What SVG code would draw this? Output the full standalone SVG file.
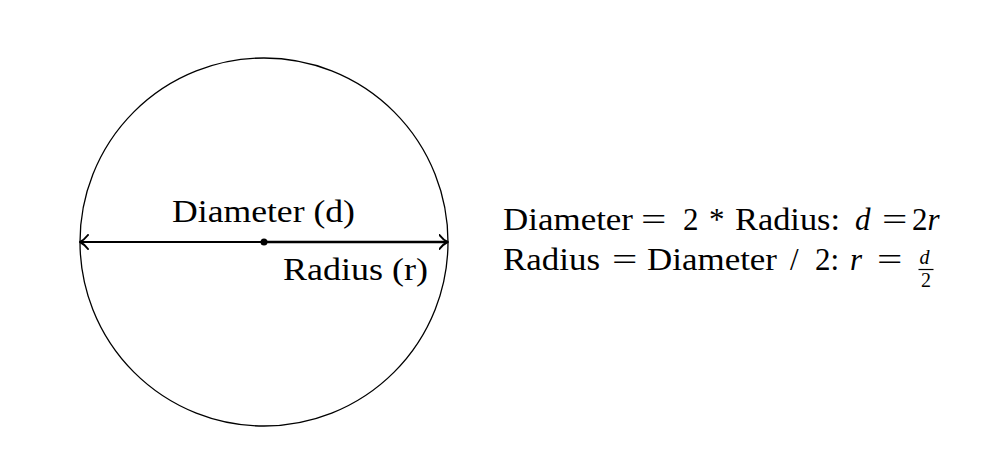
<svg xmlns="http://www.w3.org/2000/svg" width="1003" height="476" viewBox="0 0 1003 476">
<style>
.t{font-family:"Liberation Serif","Times New Roman",serif;font-size:31px;fill:#000}
.i{font-style:italic}
.s{font-family:"Liberation Serif","Times New Roman",serif;font-size:20px;fill:#000}
</style>
<defs>
<marker id="ah" viewBox="0 0 10 16" refX="9" refY="8" markerWidth="10" markerHeight="16" markerUnits="userSpaceOnUse" orient="auto-start-reverse">
<path d="M1,1 Q5,6 9,8 Q5,10 1,15" fill="none" stroke="#000" stroke-width="2" stroke-linecap="round"/>
</marker>
</defs>
<rect width="1003" height="476" fill="#fff"/>
<g id="circle">
<circle cx="264" cy="242" r="184" fill="none" stroke="#000" stroke-width="1.3"/>
</g>
<g id="connectors">
<line x1="80" y1="242" x2="264" y2="242" stroke="#000" stroke-width="1.8" marker-start="url(#ah)"/>
<line x1="264" y1="242" x2="447.5" y2="242" stroke="#000" stroke-width="2.4" marker-end="url(#ah)"/>
</g>
<g id="center">
<circle cx="264" cy="242" r="3.5" fill="#000"/>
</g>
<g id="labels">
<text class="t" x="172" y="222" textLength="183" lengthAdjust="spacingAndGlyphs">Diameter (d)</text>
<text class="t" x="283" y="280" textLength="145" lengthAdjust="spacingAndGlyphs">Radius (r)</text>
</g>
<g id="formulas">
<text class="t" x="503" y="230" textLength="130" lengthAdjust="spacingAndGlyphs">Diameter</text>
<text class="t" transform="translate(641,230) scale(1.45,1)">=</text>
<text class="t" x="683" y="230">2</text>
<text class="t" x="709" y="230">*</text>
<text class="t" x="735" y="230" textLength="105" lengthAdjust="spacingAndGlyphs">Radius:</text>
<text class="t i" x="855" y="230">d</text>
<text class="t" transform="translate(882,230) scale(1.45,1)">=</text>
<text class="t" x="912" y="230">2<tspan class="i">r</tspan></text>
<text class="t" x="503" y="270" textLength="97" lengthAdjust="spacingAndGlyphs">Radius</text>
<text class="t" transform="translate(612,270) scale(1.45,1)">=</text>
<text class="t" x="647" y="270" textLength="130" lengthAdjust="spacingAndGlyphs">Diameter</text>
<text class="t" x="790" y="270">/</text>
<text class="t" x="815" y="270">2:</text>
<text class="t i" x="850" y="270">r</text>
<text class="t" transform="translate(877,270) scale(1.45,1)">=</text>
<text class="s i" x="919.5" y="264">d</text>
<line x1="918.5" y1="269.5" x2="933.5" y2="269.5" stroke="#000" stroke-width="1.2"/>
<text class="s" x="921" y="287">2</text>
</g>
</svg>
